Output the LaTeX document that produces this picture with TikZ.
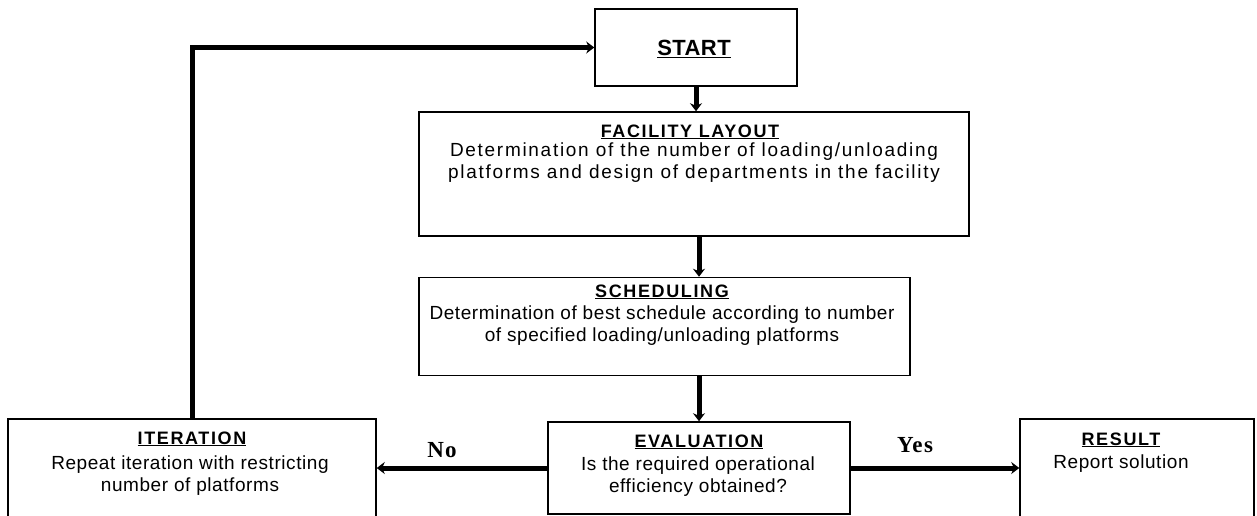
\documentclass[tikz,border=0pt]{standalone}
\usepackage{fontspec}
\usetikzlibrary{arrows.meta}
\setmainfont{Liberation Sans}
\newfontfamily\bodyfont[LetterSpace=3]{Liberation Sans}
\newfontfamily\widefont[LetterSpace=9]{Liberation Sans}
\newfontfamily\headfont[LetterSpace=9]{Liberation Sans Bold}
\newfontfamily\startfont[LetterSpace=2]{Liberation Sans Bold}
\newfontfamily\answerfont[LetterSpace=6]{Liberation Serif Bold}

\tikzset{
  box/.style={draw=black, line width=1.5pt, fill=white, inner sep=0pt},
  head/.style={font=\fontsize{18}{20}\headfont, inner sep=0pt, anchor=base},
  body/.style={font=\fontsize{19}{22}\bodyfont, align=center, inner sep=0pt, anchor=north},
  answer/.style={font=\fontsize{23}{25}\answerfont, inner sep=0pt},
  flow/.style={line width=5pt, -{Stealth[length=8pt,width=12pt]}}
}
\newcommand{\ul}[1]{\underline{#1}}

\begin{document}
\begin{tikzpicture}[x=1pt, y=-1pt]
  \useasboundingbox (0,0) rectangle (1257,516);
  \clip (0,0) rectangle (1257,516);
  \fill[white] (0,0) rectangle (1257,516);

  % boxes
  \node[box, minimum width=202pt, minimum height=77pt] (start) at (696,47.5) {};
  \node[box, minimum width=550pt, minimum height=124pt] (fac) at (694,174) {};
  \node[box, minimum width=491pt, minimum height=98pt] (sched) at (664.5,326.5) {};
  \node[box, minimum width=302pt, minimum height=92pt] (eval) at (699,468) {};
  \node[box, minimum width=368pt, minimum height=111pt] (iter) at (192,474.5) {};
  \node[box, minimum width=234pt, minimum height=111pt] (res) at (1137,474.5) {};

  % texts
  \node[font=\fontsize{22}{24}\startfont, inner sep=0pt, anchor=base] (startT) at (694,56) {\ul{START}};

  \node[head] (facT) at (690,137) {\ul{FACILITY LAYOUT}};
  \node[font=\fontsize{19}{22}\widefont, align=center, inner sep=0pt, anchor=north] (facB) at (694,143)
    {Determination of the number of loading/unloading\\platforms and design of departments in the facility};

  \node[head] (schedT) at (662,297) {\ul{SCHEDULING}};
  \node[body] (schedB) at (662,306)
    {Determination of best schedule according to number\\of specified loading/unloading platforms};

  \node[head] (evalT) at (699,447) {\ul{EVALUATION}};
  \node[body] (evalB) at (698,457)
    {Is the required operational\\efficiency obtained?};

  \node[head] (iterT) at (192,444) {\ul{ITERATION}};
  \node[body] (iterB) at (190,456)
    {Repeat iteration with restricting\\number of platforms};

  \node[head] (resT) at (1121,445) {\ul{RESULT}};
  \node[body] (resB) at (1121,455) {Report solution};

  % connectors
  \draw[flow] (start.south) -- (start.south |- fac.north);
  \draw[flow] (eval.north |- fac.south) -- (eval.north |- sched.north);
  \draw[flow] (eval.north |- sched.south) -- (eval.north);
  \draw[flow] (eval.west) -- (eval.west -| iter.east);
  \draw[flow] (eval.east) -- (eval.east -| res.west);
  \draw[flow] (iter.north) -- (iter.north |- start.west) -- (start.west);

  \node[answer] (no) at (442,450) {No};
  \node[answer] (yes) at (915,445) {Yes};
\end{tikzpicture}
\end{document}
